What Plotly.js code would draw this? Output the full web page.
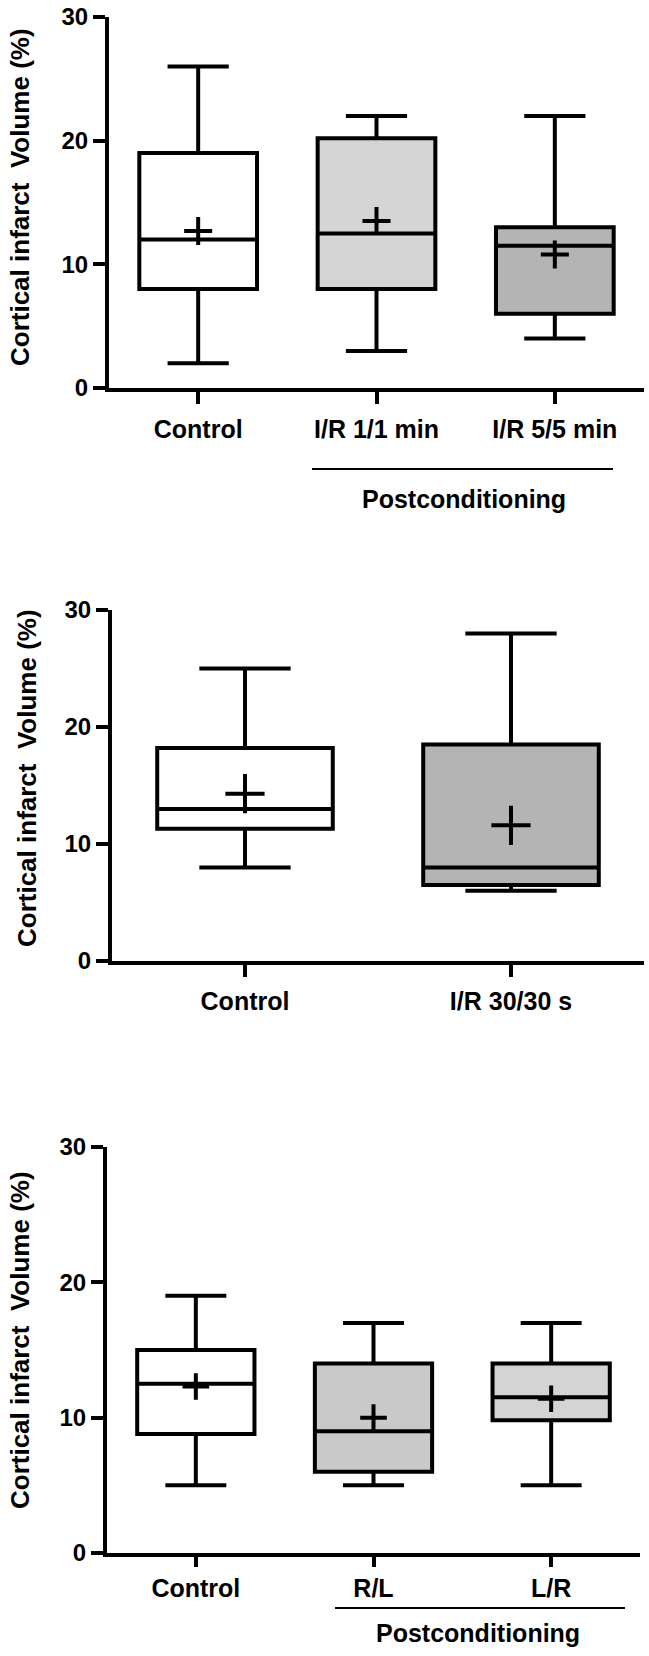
<!DOCTYPE html>
<html>
<head>
<meta charset="utf-8">
<script src="https://cdn.plot.ly/plotly-3.0.1.min.js"></script>
<style>html,body{margin:0;padding:0;background:#fff;}#chart{width:649px;height:1656px;}</style>
</head>
<body>
<div id="chart"></div>
<script>
// ---- Data ----
const p1Categories = ['Control', 'I/R 1/1 min', 'I/R 5/5 min'];
const p1Lower  = [2, 3, 4];
const p1Q1     = [8, 8, 6];
const p1Median = [12, 12.5, 11.5];
const p1Q3     = [19, 20.2, 13];
const p1Upper  = [26, 22, 22];
const p1Mean   = [12.7, 13.5, 10.8];
const p1Colors = ['#ffffff', '#d4d4d4', '#b4b4b4'];

const p2Categories = ['Control', 'I/R 30/30 s'];
const p2Lower  = [8, 6];
const p2Q1     = [11.3, 6.5];
const p2Median = [13, 8];
const p2Q3     = [18.2, 18.5];
const p2Upper  = [25, 28];
const p2Mean   = [14.3, 11.6];
const p2Colors = ['#ffffff', '#b4b4b4'];

const p3Categories = ['Control', 'R/L', 'L/R'];
const p3Lower  = [5, 5, 5];
const p3Q1     = [8.8, 6, 9.8];
const p3Median = [12.5, 9, 11.5];
const p3Q3     = [15, 14, 14];
const p3Upper  = [19, 17, 17];
const p3Mean   = [12.3, 10, 11.4];
const p3Colors = ['#ffffff', '#c9c9c9', '#d4d4d4'];

const yTickVals = [0, 10, 20, 30];
const yTitle = 'Cortical infarct  Volume (%)';
const groupLabel = 'Postconditioning';

// ---- Layout helpers ----
const W = 649, H = 1656;
const FONT = 'Liberation Sans, Arial, Helvetica, sans-serif';
const px = x => x / W;
const py = y => 1 - y / H;

const panels = [
  {cats: p1Categories, lo: p1Lower, q1: p1Q1, med: p1Median, q3: p1Q3, hi: p1Upper, mean: p1Mean, colors: p1Colors,
   left: 109, right: 644, top: 17, bottom: 388, plusSize: 20, titleX: 20, titleY: 197, xTickLen: 12, xStandoff: 4},
  {cats: p2Categories, lo: p2Lower, q1: p2Q1, med: p2Median, q3: p2Q3, hi: p2Upper, mean: p2Mean, colors: p2Colors,
   left: 112, right: 644, top: 610, bottom: 961, plusSize: 28, titleX: 27, titleY: 778, xTickLen: 12, xStandoff: 3},
  {cats: p3Categories, lo: p3Lower, q1: p3Q1, med: p3Median, q3: p3Q3, hi: p3Upper, mean: p3Mean, colors: p3Colors,
   left: 107, right: 640, top: 1147, bottom: 1553, plusSize: 19, titleX: 20, titleY: 1340, xTickLen: 10, xStandoff: 0}
];

const data = [];
const layout = {
  width: W, height: H,
  margin: {l: 0, r: 0, t: 0, b: 0},
  paper_bgcolor: '#ffffff', plot_bgcolor: '#ffffff',
  showlegend: false,
  boxmode: 'overlay',
  annotations: [], shapes: []
};

panels.forEach((p, i) => {
  const n = i === 0 ? '' : String(i + 1);
  const xa = 'x' + n, ya = 'y' + n;
  p.cats.forEach((c, j) => {
    data.push({
      type: 'box', xaxis: xa, yaxis: ya,
      x: [c], q1: [p.q1[j]], median: [p.med[j]], q3: [p.q3[j]],
      lowerfence: [p.lo[j]], upperfence: [p.hi[j]],
      width: 0.66, whiskerwidth: 0.52, boxpoints: false,
      fillcolor: p.colors[j], line: {color: '#000', width: 4},
      hoverinfo: 'skip'
    });
  });
  data.push({
    type: 'scatter', mode: 'markers', xaxis: xa, yaxis: ya,
    x: p.cats, y: p.mean,
    marker: {symbol: 'cross-thin', size: p.plusSize, color: '#000', line: {color: '#000', width: 4}},
    hoverinfo: 'skip'
  });
  layout['xaxis' + n] = {
    domain: [px(p.left), px(p.right)], anchor: ya,
    type: 'category', range: [-0.5, p.cats.length - 0.5],
    showline: true, linewidth: 4, linecolor: '#000',
    ticks: 'outside', ticklen: p.xTickLen, tickwidth: 4, tickcolor: '#000',
    tickfont: {family: FONT, size: 25, color: '#000', weight: 'bold'},
    ticklabelstandoff: p.xStandoff,
    showgrid: false, zeroline: false
  };
  layout['yaxis' + n] = {
    domain: [py(p.bottom), py(p.top)], anchor: xa,
    range: [0, 30], tickvals: yTickVals,
    showline: true, linewidth: 4, linecolor: '#000',
    ticks: 'outside', ticklen: 12, tickwidth: 4, tickcolor: '#000',
    tickfont: {family: FONT, size: 24, color: '#000', weight: 'bold'},
    showgrid: false, zeroline: false
  };
  layout.annotations.push({
    xref: 'paper', yref: 'paper', x: px(p.titleX), y: py(p.titleY),
    xanchor: 'center', yanchor: 'middle', textangle: -90, showarrow: false,
    text: yTitle, font: {family: FONT, size: 26, color: '#000', weight: 'bold'}
  });
});

// Group brackets ("Postconditioning")
const groups = [
  {x0: 312, x1: 613, lineY: 469, textX: 464, textY: 499},
  {x0: 335, x1: 625, lineY: 1608, textX: 478, textY: 1633}
];
groups.forEach(g => {
  layout.shapes.push({type: 'line', xref: 'paper', yref: 'paper',
    x0: px(g.x0), x1: px(g.x1), y0: py(g.lineY), y1: py(g.lineY),
    line: {color: '#000', width: 2}});
  layout.annotations.push({xref: 'paper', yref: 'paper', x: px(g.textX), y: py(g.textY),
    xanchor: 'center', yanchor: 'middle', showarrow: false, text: groupLabel,
    font: {family: FONT, size: 25, color: '#000', weight: 'bold'}});
});

Plotly.newPlot('chart', data, layout, {staticPlot: true, displayModeBar: false});
</script>
</body>
</html>
